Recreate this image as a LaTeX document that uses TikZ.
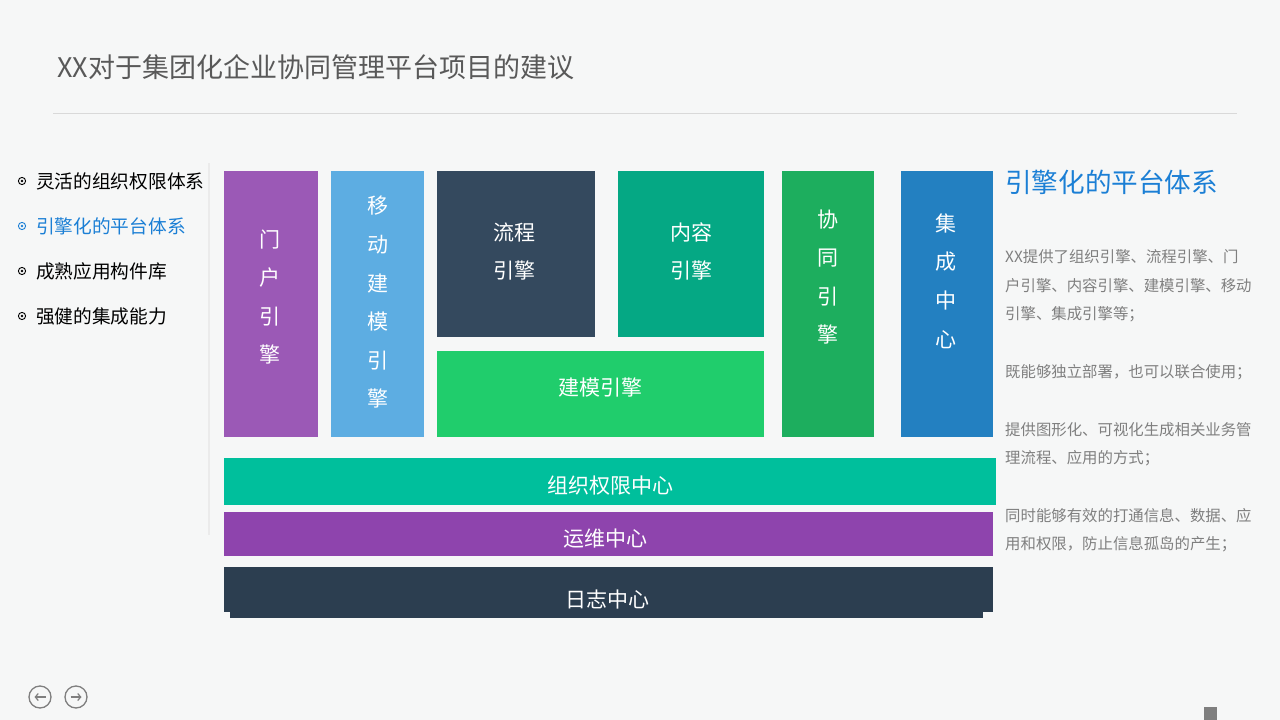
\documentclass[tikz,border=0pt]{standalone}
\usepackage{fontspec}
\setmainfont{Noto Sans CJK SC}
\usetikzlibrary{arrows.meta}
\definecolor{bgcol}{HTML}{F6F7F7}
\definecolor{titlecol}{HTML}{595959}
\definecolor{linecol}{HTML}{D9D9D9}
\definecolor{accent}{HTML}{1B7FD5}
\definecolor{desccol}{HTML}{7F7F7F}
\definecolor{cportal}{HTML}{9B59B6}
\definecolor{cmobile}{HTML}{5DADE2}
\definecolor{cflow}{HTML}{34495E}
\definecolor{ccontent}{HTML}{05A884}
\definecolor{cmodel}{HTML}{20CD6C}
\definecolor{ccoop}{HTML}{1DAE5E}
\definecolor{cinteg}{HTML}{2380C1}
\definecolor{corg}{HTML}{00BF9C}
\definecolor{cops}{HTML}{8E44AD}
\definecolor{clog}{HTML}{2C3E50}
\begin{document}
\begin{tikzpicture}[x=1pt,y=-1pt,
    blk/.style={anchor=north west, inner sep=0pt, outer sep=0pt},
    blktxt/.style={text=white, align=center, inner sep=0pt, font=\fontsize{21}{38.6}\selectfont},
    menu/.style={anchor=west, inner sep=0pt, font=\fontsize{18.7}{22}\selectfont},
    desc/.style={anchor=west, inner sep=0pt, text=desccol, font=\fontsize{15.4}{20}\selectfont},
    navbtn/.style={circle, draw=desccol, line width=1.3pt, minimum size=22pt, inner sep=0pt},
    navarr/.style={draw=desccol, line width=1.2pt, -{Straight Barb[length=3pt,width=7pt]}}]
\fill[bgcol] (0,0) rectangle (1280,720);
\useasboundingbox (0,0) rectangle (1280,720);

\node[anchor=west, inner sep=0pt, text=titlecol, font=\fontsize{27}{30}\selectfont] (title) at (57,67) {XX对于集团化企业协同管理平台项目的建议};
\draw[linecol, line width=0.8pt] (53,113) -- (1237,113);
\draw[black!8, line width=1.5pt] (209,163) -- (209,535);

% menu
\foreach \y/\c in {181/black, 226/accent, 271/black, 316/black}{
  \draw[\c, line width=0.9pt] (22,\y) circle (3.6);
  \fill[\c] (22,\y) circle (1.4);
}
\node[menu] (menu1) at (36,181) {灵活的组织权限体系};
\node[menu, text=accent] (menu2) at (36,226) {引擎化的平台体系};
\node[menu] (menu3) at (36,271) {成熟应用构件库};
\node[menu] (menu4) at (36,316) {强健的集成能力};

% engines
\node[blk, fill=cportal, minimum width=94pt, minimum height=266pt] (portal) at (224,171) {};
\node[blktxt] (portaltxt) at (270,297) {门\\户\\引\\擎};
\node[blk, fill=cmobile, minimum width=93pt, minimum height=266pt] (mobile) at (331,171) {};
\node[blktxt] (mobiletxt) at (378,302.5) {移\\动\\建\\模\\引\\擎};
\node[blk, fill=cflow, minimum width=158pt, minimum height=166pt] (flow) at (437,171) {};
\node[blktxt] (flowtxt) at (514,251.5) {流程\\引擎};
\node[blk, fill=ccontent, minimum width=146pt, minimum height=166pt] (content) at (618,171) {};
\node[blktxt] (contenttxt) at (691,251.5) {内容\\引擎};
\node[blk, fill=cmodel, minimum width=327pt, minimum height=86pt] (model) at (437,351) {};
\node[blktxt] (modeltxt) at (600,387) {建模引擎};
\node[blk, fill=ccoop, minimum width=92pt, minimum height=266pt] (coop) at (782,171) {};
\node[blktxt] (cooptxt) at (828,277) {协\\同\\引\\擎};
\node[blk, fill=cinteg, minimum width=92pt, minimum height=266pt] (integ) at (901,171) {};
\node[blktxt] (integtxt) at (946,281) {集\\成\\中\\心};

% centres
\node[blk, fill=corg, minimum width=772pt, minimum height=47pt] (org) at (224,458) {};
\node[blktxt] (orgtxt) at (610,486) {组织权限中心};
\node[blk, fill=cops, minimum width=769pt, minimum height=44pt] (ops) at (224,512) {};
\node[blktxt] (opstxt) at (605,539) {运维中心};
\fill[clog] (230,606) rectangle (983,618);
\node[blk, fill=clog, minimum width=769pt, minimum height=45pt] (log) at (224,567) {};
\node[blktxt] (logtxt) at (607,600) {日志中心};

% right side
\node[anchor=west, inner sep=0pt, text=accent, font=\fontsize{26.6}{30}\selectfont] (heading) at (1005,182) {引擎化的平台体系};
\foreach \t [count=\i] in {XX提供了组织引擎、流程引擎、门, 户引擎、内容引擎、建模引擎、移动, 引擎、集成引擎等；, , 既能够独立部署，也可以联合使用；, , 提供图形化、可视化生成相关业务管, 理流程、应用的方式；, , 同时能够有效的打通信息、数据、应, 用和权限，防止信息孤岛的产生；}
  \node[desc] (desc\i) at (1005,{257+(\i-1)*28.7}) {\t};

% navigation
\node[navbtn] (prevbtn) at (40,697) {};
\node[navbtn] (nextbtn) at (76,697) {};
\draw[navarr] ([xshift=5.5pt]prevbtn.center) -- ([xshift=-5.5pt]prevbtn.center);
\draw[navarr] ([xshift=-5.5pt]nextbtn.center) -- ([xshift=5.5pt]nextbtn.center);
\fill[desccol] (1204,707) rectangle (1217,720);
\end{tikzpicture}
\end{document}
